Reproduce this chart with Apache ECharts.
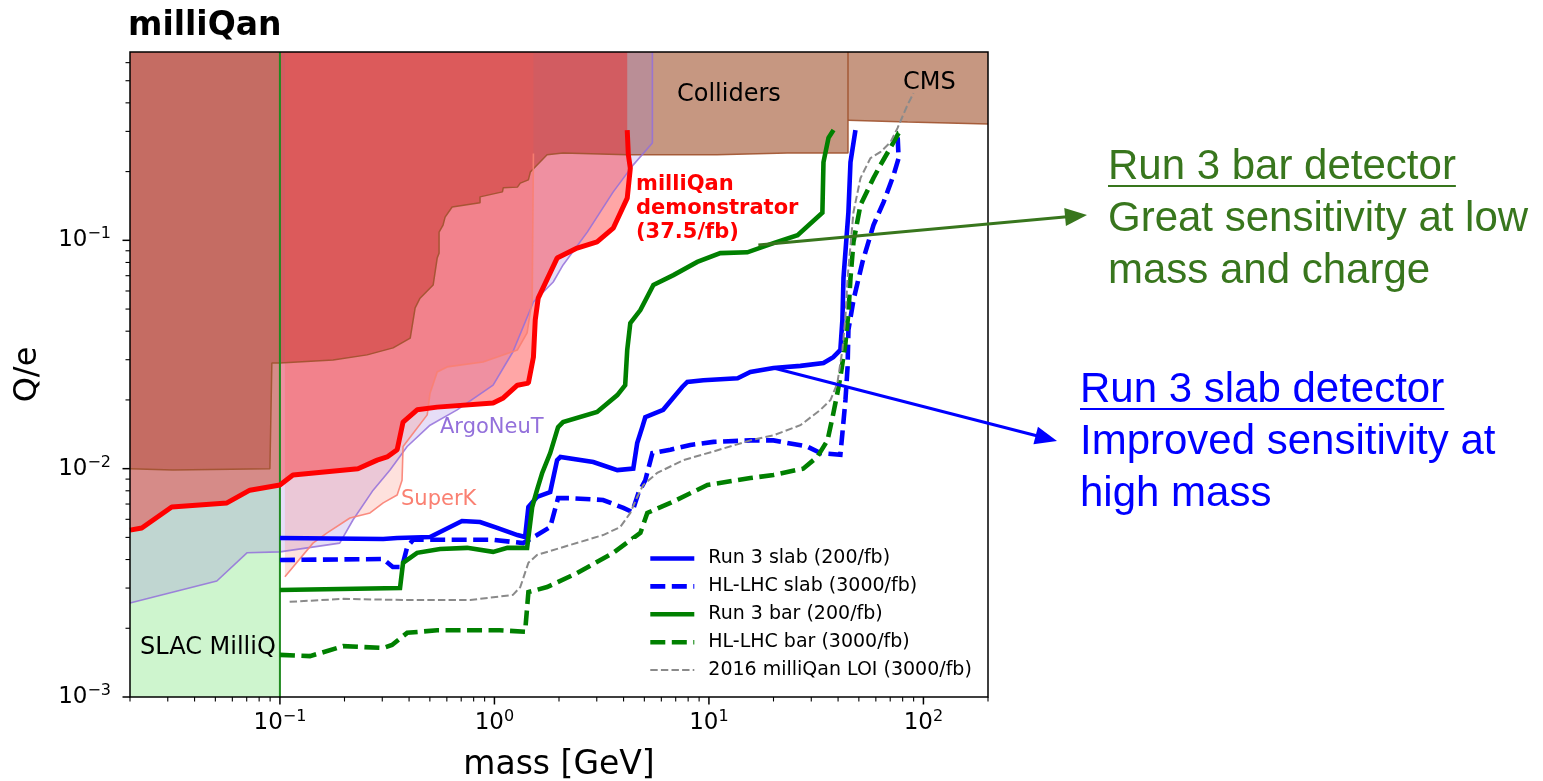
<!DOCTYPE html>
<html><head><meta charset="utf-8">
<script src="https://cdn.jsdelivr.net/npm/echarts@6/dist/echarts.min.js"></script>
<style>html,body{margin:0;padding:0;background:#fff;}#c{width:1543px;height:781px;}</style>
</head><body><div id="c"></div>
<script>
// ---------- axis ranges & tick labels ----------
const X_MIN = 0.02, X_MAX = 200, Y_MIN = 0.001, Y_MAX = 0.668;
const xMajorExps = [-1, 0, 1, 2];
const yMajorExps = [-3, -2, -1];
const xMinorDecades = [-2, -1, 0, 1, 2];
const yMinorDecades = [-3, -2, -1];
const minorMantissas = [2, 3, 4, 5, 6, 7, 8, 9];

// ---------- excluded regions (mass GeV, Q/e) ----------
const collidersEdge = [[0.02,0.01],[0.0317,0.00986],[0.0898,0.01],[0.0917,0.01],[0.0917,0.029],[0.1,0.029],[0.177,0.0299],[0.255,0.0315],[0.337,0.0338],[0.405,0.0373],[0.427,0.0506],[0.45,0.0558],[0.518,0.0637],[0.541,0.0836],[0.552,0.0879],[0.552,0.1086],[0.576,0.1167],[0.589,0.1264],[0.635,0.14],[0.857,0.146],[0.857,0.155],[1.09,0.163],[1.10,0.17],[1.28,0.171],[1.32,0.178],[1.44,0.184],[1.47,0.199],[1.76,0.237],[2.09,0.241],[4.16,0.237],[10.9,0.237],[23.2,0.241],[44.5,0.241],[44.5,Y_MAX]];
const cmsEdge = [[44.5,0.336],[84.3,0.33],[200,0.323]];
const slacRegion = [[0.02,Y_MIN],[0.1,Y_MIN]];
const slacEdge = [[0.1,Y_MIN],[0.1,Y_MAX]];
const argoneut = [[0.02,0.00258],[0.0508,0.00322],[0.0702,0.00428],[0.1,0.00432],[0.19,0.00472],[0.219,0.00596],[0.272,0.00805],[0.326,0.00986],[0.392,0.0125],[0.501,0.0155],[0.67,0.0181],[0.986,0.0232],[1.22,0.0325],[1.52,0.0537],[1.88,0.0657],[2.09,0.078],[2.71,0.1086],[3.58,0.163],[4.44,0.214],[5.45,0.267],[5.45,Y_MAX]];
const superK = [[0.1055,0.00336],[0.1426,0.00472],[0.166,0.00523],[0.212,0.00608],[0.263,0.0064],[0.303,0.00708],[0.352,0.00767],[0.371,0.0089],[0.375,0.0125],[0.418,0.0143],[0.486,0.0172],[0.501,0.0214],[0.541,0.0265],[0.602,0.0279],[0.885,0.0293],[1.28,0.0331],[1.42,0.0393],[1.50,0.0548],[1.52,0.24]];
const demonstrator = [[0.02,0.00538],[0.0227,0.0055],[0.0313,0.00679],[0.0566,0.00708],[0.0724,0.00805],[0.1,0.00848],[0.115,0.00938],[0.231,0.01],[0.284,0.0109],[0.316,0.01125],[0.352,0.0121],[0.375,0.016],[0.436,0.0181],[0.541,0.0186],[0.986,0.0194],[1.10,0.0204],[1.28,0.0232],[1.44,0.0237],[1.52,0.0308],[1.55,0.0448],[1.60,0.0558],[1.96,0.0836],[2.43,0.0925],[3.01,0.0985],[3.58,0.113],[4.16,0.153],[4.30,0.207],[4.21,0.237],[4.16,0.304]];

// ---------- projected sensitivities ----------
const run3Slab = [[0.1,0.00497],[0.303,0.00492],[0.352,0.00497],[0.501,0.00502],[0.706,0.0059],[0.857,0.00584],[1.03,0.0055],[1.28,0.00512],[1.39,0.00502],[1.44,0.00679],[1.58,0.00752],[1.82,0.0079],[1.96,0.0109],[2.03,0.01125],[2.89,0.0107],[3.74,0.00986],[4.44,0.01],[4.63,0.01294],[4.89,0.0152],[5.05,0.0168],[6.12,0.0181],[7.51,0.0228],[7.93,0.024],[9.42,0.0244],[13.6,0.0249],[15.6,0.0265],[20.0,0.0276],[26.7,0.0282],[34.2,0.029],[38.0,0.0308],[41.0,0.0331],[41.9,0.0448],[42.4,0.0684],[44.7,0.133],[45.7,0.22],[48.2,0.304]];
const hlSlab = [[0.1,0.00398],[0.303,0.00402],[0.336,0.00371],[0.371,0.00371],[0.392,0.00454],[0.418,0.00488],[0.986,0.00488],[1.36,0.00472],[1.58,0.00512],[1.82,0.00555],[1.98,0.00743],[2.25,0.00743],[3.21,0.00729],[3.99,0.00673],[4.39,0.00646],[4.69,0.00782],[5.05,0.0089],[5.45,0.0117],[6.61,0.0121],[8.19,0.0127],[10.5,0.0131],[15.6,0.0133],[20.0,0.0133],[28.7,0.0125],[33.1,0.0117],[41.0,0.0115],[41.9,0.0143],[43.3,0.02],[44.3,0.0279],[44.7,0.0405],[47.2,0.0548],[52.0,0.0804],[58.5,0.1167],[65.2,0.147],[72.6,0.193],[76.6,0.229],[75.7,0.295]];
const run3Bar = [[0.1,0.00294],[0.363,0.003],[0.375,0.00387],[0.436,0.00428],[0.558,0.00445],[0.746,0.0045],[0.986,0.00432],[1.15,0.0045],[1.42,0.0045],[1.50,0.00679],[1.58,0.00807],[1.67,0.00958],[1.82,0.0117],[1.98,0.0152],[2.09,0.016],[3.01,0.0177],[3.74,0.021],[4.07,0.0232],[4.16,0.0331],[4.30,0.0434],[4.79,0.0495],[5.51,0.0637],[6.83,0.0704],[8.83,0.0804],[11.3,0.0879],[15.1,0.0886],[20.0,0.0972],[25.9,0.1054],[33.8,0.132],[34.2,0.22],[36.1,0.281],[38.1,0.304]];
const hlBar = [[0.1,0.00153],[0.138,0.00151],[0.159,0.00157],[0.197,0.00167],[0.303,0.00164],[0.333,0.00169],[0.392,0.00191],[0.541,0.00196],[1.06,0.00196],[1.39,0.00193],[1.44,0.00288],[1.76,0.00303],[2.43,0.00349],[3.58,0.00428],[4.79,0.00523],[5.16,0.0064],[6.61,0.00708],[9.84,0.00848],[15.6,0.0091],[20.0,0.00938],[27.5,0.01],[32.0,0.01125],[35.7,0.0133],[37.7,0.0168],[39.7,0.0214],[41.0,0.0252],[43.3,0.0355],[44.7,0.0481],[45.7,0.0684],[47.2,0.0985],[50.9,0.143],[58.5,0.1875],[63.1,0.214],[72.6,0.269],[76.6,0.295],[80.7,0.3]];
const loi2016 = [[0.111,0.00261],[0.197,0.00269],[0.375,0.00266],[0.771,0.00266],[1.22,0.0028],[1.32,0.00303],[1.44,0.00387],[1.58,0.00419],[2.25,0.00463],[3.21,0.00512],[3.86,0.00555],[4.30,0.0064],[4.63,0.00752],[4.94,0.00848],[5.74,0.00958],[7.60,0.0109],[10.2,0.0118],[15.6,0.0133],[20.0,0.014],[26.7,0.0155],[33.1,0.0181],[36.9,0.02],[39.7,0.0237],[41.9,0.0331],[43.3,0.0461],[44.3,0.0684],[47.2,0.133],[50.9,0.1875],[56.6,0.229],[63.1,0.244],[70.2,0.269],[75.7,0.31],[84.3,0.392],[89.9,0.441]];

const seriesNames = ['Run 3 slab (200/fb)','HL-LHC slab (3000/fb)','Run 3 bar (200/fb)','HL-LHC bar (3000/fb)','2016 milliQan LOI (3000/fb)'];

// annotation arrows: start on curve (data coords)
const greenArrowFrom = [17.0, 0.0953];
const blueArrowFrom = [20.0, 0.0276];

// ---------- build ----------
const FONT = '"DejaVu Sans", sans-serif';
const chart = echarts.init(document.getElementById('c'), null, {renderer: 'canvas'});

const W_MAIN = 4.6, DASH_MAIN = [15, 6.5], DASH_LOI = [7.4, 3.2];
const styles = [
  {color:'#0000ff', width:W_MAIN, type:'solid'},
  {color:'#0000ff', width:W_MAIN, type:DASH_MAIN},
  {color:'#008000', width:W_MAIN, type:'solid'},
  {color:'#008000', width:W_MAIN, type:DASH_MAIN},
  {color:'#8a8a8a', width:2, type:DASH_LOI}
];

function fill(name, data, color) {
  return {type:'line', name, data, symbol:'none', silent:true, animation:false, z:1,
    lineStyle:{width:0, opacity:0}, areaStyle:{color, origin:'end', opacity:1}};
}
function edge(name, data, color, width) {
  return {type:'line', name, data, symbol:'none', silent:true, animation:false, z:2,
    lineStyle:{color, width}};
}
function curve(i, data) {
  const s = styles[i];
  return {type:'line', name:seriesNames[i], data, symbol:'none', silent:true, animation:false, z:3,
    itemStyle:{color:s.color}, lineStyle:{color:s.color, width:s.width, type:s.type, cap:'butt', join:'miter'}};
}

const xTickData = [];
xMinorDecades.forEach(d => minorMantissas.forEach(m => {
  const v = m * Math.pow(10, d);
  if (v >= X_MIN * 0.999 && v <= X_MAX * 1.001) xTickData.push([v, Y_MIN, 0]);
}));
xMajorExps.forEach(e => xTickData.push([Math.pow(10, e), Y_MIN, 1]));
const yTickData = [];
yMinorDecades.forEach(d => minorMantissas.forEach(m => {
  const v = m * Math.pow(10, d);
  if (v >= Y_MIN * 0.999 && v <= Y_MAX) yTickData.push([X_MIN, v, 0]);
}));
yMajorExps.forEach(e => yTickData.push([X_MIN, Math.pow(10, e), 1]));

function supLabel(exps) {
  return v => {
    const lg = Math.log10(v), e = Math.round(lg);
    if (Math.abs(lg - e) > 1e-6 || exps.indexOf(e) < 0) return '';
    return '10{sup|' + (e < 0 ? '\u2212' + (-e) : String(e)) + '}';
  };
}
const labelRich = {sup:{fontSize:16, fontFamily:FONT, color:'#000', lineHeight:16, verticalAlign:'top'}};

const option = {
  backgroundColor: '#fff',
  animation: false,
  title: {text:'milliQan', left:128, top:10, padding:0,
    textStyle:{fontFamily:FONT, fontWeight:'bold', fontSize:33, color:'#000'}},
  grid: {left:130, right:555, top:52, bottom:84, containLabel:false, outerBoundsMode:'none'},
  xAxis: {type:'log', logBase:10, min:X_MIN, max:X_MAX,
    name:'mass [GeV]', nameLocation:'middle', nameGap:52,
    nameTextStyle:{fontFamily:FONT, fontSize:33, color:'#000'},
    axisLine:{show:false}, axisTick:{show:false}, splitLine:{show:false}, minorTick:{show:false},
    axisLabel:{formatter:supLabel(xMajorExps), margin:12, fontFamily:FONT, fontSize:23, color:'#000', lineHeight:28, rich:labelRich}},
  yAxis: {type:'log', logBase:10, min:Y_MIN, max:Y_MAX,
    name:'Q/e', nameLocation:'middle', nameGap:86,
    nameTextStyle:{fontFamily:FONT, fontSize:32, color:'#000'},
    axisLine:{show:false}, axisTick:{show:false}, splitLine:{show:false}, minorTick:{show:false},
    axisLabel:{formatter:supLabel(yMajorExps), margin:19, fontFamily:FONT, fontSize:23, color:'#000', lineHeight:28, rich:labelRich}},
  legend: {
    data: seriesNames.map((n, i) => ({name:n, itemStyle:{opacity:0},
      lineStyle:{color:styles[i].color, width:styles[i].width, type:styles[i].type, opacity:1}})),
    orient:'vertical', left:633, top:539, padding:[10,14,10,15],
    itemGap:8.9, itemWidth:44, itemHeight:20, backgroundColor:'#fff', selectedMode:false,
    itemStyle:{opacity:0},
    textStyle:{fontFamily:FONT, fontSize:19, color:'#000', padding:[0,0,0,9]}},
  series: [
    fill('colliders', collidersEdge, 'rgba(160,82,45,0.6)'),
    fill('cms', cmsEdge, 'rgba(160,82,45,0.6)'),
    fill('slac', slacRegion, 'rgba(135,231,135,0.41)'),
    fill('argoFill', argoneut, 'rgba(147,112,219,0.23)'),
    fill('superKFill', superK, 'rgba(250,128,114,0.24)'),
    fill('demoFill', demonstrator, 'rgba(255,0,0,0.35)'),
    edge('collidersEdge', collidersEdge, 'rgba(160,82,45,0.9)', 1.5),
    edge('cmsEdge', cmsEdge, 'rgba(160,82,45,0.9)', 1.5),
    edge('argoEdge', argoneut, 'rgba(147,112,219,0.85)', 1.6),
    edge('superKEdge', superK, 'rgba(250,128,114,0.9)', 1.6),
    edge('slacEdge', slacEdge, '#1f8a1f', 2),
    edge('demoEdge', demonstrator, '#ff0000', 5),
    curve(0, run3Slab),
    curve(1, hlSlab),
    curve(2, run3Bar),
    curve(3, hlBar),
    curve(4, loi2016),
    {type:'custom', name:'xticks', data:xTickData, encode:{x:0, y:1}, z:20, silent:true, clip:false,
      renderItem:(params, api) => {
        const p = api.coord([api.value(0), api.value(1)]);
        const major = api.value(2) === 1;
        return {type:'line', shape:{x1:p[0], y1:p[1], x2:p[0], y2:p[1] + (major ? 7.5 : 4.5)},
          style:{stroke:'#000', lineWidth: major ? 1.5 : 1.1}};
      }},
    {type:'custom', name:'yticks', data:yTickData, encode:{x:0, y:1}, z:20, silent:true, clip:false,
      renderItem:(params, api) => {
        const p = api.coord([api.value(0), api.value(1)]);
        const major = api.value(2) === 1;
        return {type:'line', shape:{x1:p[0] - (major ? 7.5 : 4.5), y1:p[1], x2:p[0], y2:p[1]},
          style:{stroke:'#000', lineWidth: major ? 1.5 : 1.1}};
      }}
  ]
};
chart.setOption(option);

// ---------- annotations ----------
function txt(id, text, x, y, size, color, weight, family, align) {
  return {type:'text', id, z:100, silent:true,
    style:{text, x, y, fill:color, textAlign: align || 'left', textVerticalAlign:'middle',
      font:(weight || 'normal') + ' ' + size + 'px ' + (family || FONT)}};
}
function arrow(id, from, to, color) {
  const dx = to[0] - from[0], dy = to[1] - from[1];
  const L = Math.hypot(dx, dy), ux = dx / L, uy = dy / L, px = -uy, py = ux;
  const hl = 22, hw = 9;
  const bx = to[0] - ux * hl, by = to[1] - uy * hl;
  return [
    {type:'line', id:id + 'l', z:100, silent:true, shape:{x1:from[0], y1:from[1], x2:bx + ux * 2, y2:by + uy * 2}, style:{stroke:color, lineWidth:3}},
    {type:'polygon', id:id + 'h', z:100, silent:true, shape:{points:[[to[0], to[1]], [bx + px * hw, by + py * hw], [bx - px * hw, by - py * hw]]}, style:{fill:color, stroke:null}}
  ];
}
const ctx = document.createElement('canvas').getContext('2d');
function textW(t, font) { ctx.font = font; return ctx.measureText(t).width; }

const ARIAL = '"Liberation Sans", Arial, sans-serif';
const GREEN_T = '#38761d', BLUE_T = '#0000ff';
const ANN = 42;
const annFont = ANN + 'px ' + ARIAL;
const gStart = chart.convertToPixel({gridIndex:0}, greenArrowFrom);
const bStart = chart.convertToPixel({gridIndex:0}, blueArrowFrom);

const graphics = [
  {type:'rect', id:'frame', z:100, silent:true, shape:{x:130, y:52, width:858, height:645}, style:{fill:'none', stroke:'#000', lineWidth:1.5}},
  txt('coll', 'Colliders', 677, 95, 24, '#000'),
  txt('cms', 'CMS', 903, 83, 24, '#000'),
  txt('slac', 'SLAC MilliQ', 140, 648, 24, '#000'),
  txt('argo', 'ArgoNeuT', 440, 428, 21, 'rgb(147,112,219)'),
  txt('superk', 'SuperK', 401, 500, 21, 'rgb(250,128,114)'),
  txt('d1', 'milliQan', 636, 185, 21, '#ff0000', 'bold'),
  txt('d2', 'demonstrator', 636, 209, 21, '#ff0000', 'bold'),
  txt('d3', '(37.5/fb)', 636, 233, 21, '#ff0000', 'bold'),
  txt('g1', 'Run 3 bar detector', 1108, 167, ANN, GREEN_T, 'normal', ARIAL),
  txt('g2', 'Great sensitivity at low', 1108, 219, ANN, GREEN_T, 'normal', ARIAL),
  txt('g3', 'mass and charge', 1108, 271, ANN, GREEN_T, 'normal', ARIAL),
  txt('b1', 'Run 3 slab detector', 1080, 390, ANN, BLUE_T, 'normal', ARIAL),
  txt('b2', 'Improved sensitivity at', 1080, 442, ANN, BLUE_T, 'normal', ARIAL),
  txt('b3', 'high mass', 1080, 494, ANN, BLUE_T, 'normal', ARIAL),
  {type:'line', id:'gu', z:100, silent:true, shape:{x1:1108, y1:186, x2:1108 + textW('Run 3 bar detector', annFont), y2:186}, style:{stroke:GREEN_T, lineWidth:2}},
  {type:'line', id:'bu', z:100, silent:true, shape:{x1:1080, y1:409, x2:1080 + textW('Run 3 slab detector', annFont), y2:409}, style:{stroke:BLUE_T, lineWidth:2}}
].concat(arrow('ga', gStart, [1087, 215], GREEN_T)).concat(arrow('ba', bStart, [1057, 441], BLUE_T));
chart.setOption({graphic: graphics});
</script></body></html>
